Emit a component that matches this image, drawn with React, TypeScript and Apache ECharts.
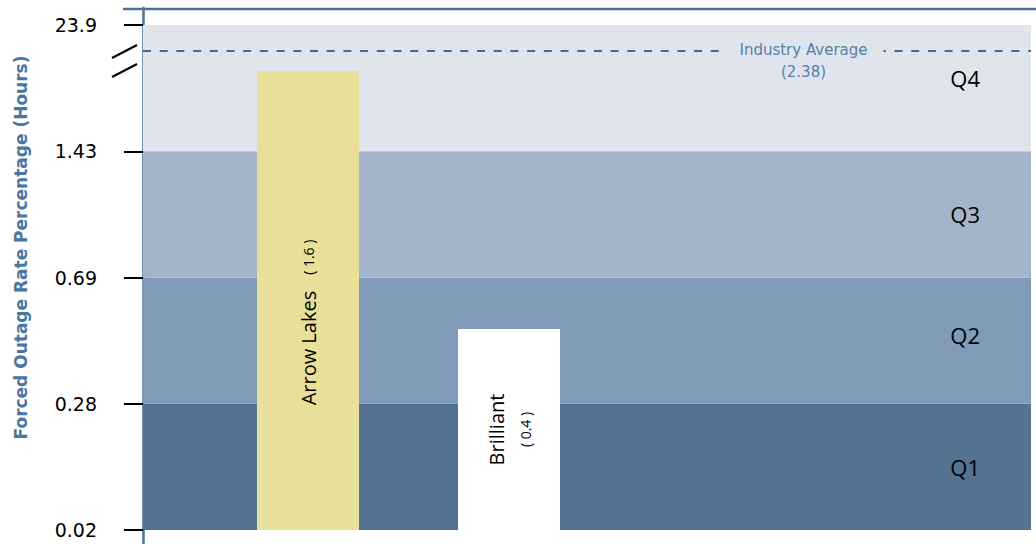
import React, { useEffect, useRef } from "react";
import * as echarts from "echarts";

// ---- data ----
const quartileNames = ["Q1", "Q2", "Q3", "Q4"];
const quartileTickLabels = ["0.02", "0.28", "0.69", "1.43", "23.9"];
const quartileColors = ["#537391", "#7f9bb8", "#a3b4ca", "#dfe4ed"];

const plants = ["Arrow Lakes", "Brilliant"];
const plantValues = [1.6, 0.4];
// bar height on the chart's quartile scale (each quartile = 1 unit)
const plantScalePositions = [3.636, 1.592];
const plantColors = ["#e8e099", "#ffffff"];

const industryAverage = 2.38;
const industryAverageScalePosition = 3.802;

const axisTitle = "Forced Outage Rate Percentage (Hours)";

const Y_MIN = -0.1109;
const Y_MAX = 4.1347;

export default function App() {
  const ref = useRef<HTMLDivElement>(null);

  useEffect(() => {
    if (!ref.current) return;
    const chart = echarts.init(ref.current, undefined, { renderer: "svg" });
    const tickVals = quartileTickLabels.map((_, i) => i);

    const option: any = {
      animation: false,
      grid: [
        { left: 143, right: 5, top: 8, bottom: 0 },
        { left: 207.5, width: 804, top: 8, bottom: 0 },
      ],
      xAxis: [
        { type: "value", gridIndex: 0, min: 0, max: 1, show: false },
        { type: "category", gridIndex: 1, data: [...plants, "", ""], show: false },
      ],
      yAxis: [
        {
          type: "value",
          gridIndex: 0,
          min: Y_MIN,
          max: Y_MAX,
          position: "left",
          offset: 19,
          splitLine: { show: false },
          axisLine: { show: true, lineStyle: { color: "#4a74a0", width: 2.5 } },
          axisTick: {
            show: true,
            length: 17,
            customValues: tickVals,
            lineStyle: { color: "#000", width: 2 },
          },
          axisLabel: {
            customValues: tickVals,
            margin: 27,
            color: "#000",
            fontSize: 19,
            fontFamily: "DejaVu Sans",
            formatter: (v: number) => quartileTickLabels[Math.round(v)] ?? "",
          },
        },
        {
          type: "value",
          gridIndex: 0,
          min: Y_MIN,
          max: Y_MAX,
          position: "left",
          offset: 19,
          splitLine: { show: false },
          axisLine: { show: false },
          axisTick: {
            show: true,
            inside: true,
            length: 12,
            customValues: tickVals,
            lineStyle: { color: "#000", width: 2 },
          },
          axisLabel: { show: false },
        },
        {
          type: "value",
          gridIndex: 1,
          min: Y_MIN,
          max: Y_MAX,
          show: false,
        },
      ],
      series: [
        {
          type: "line",
          xAxisIndex: 0,
          yAxisIndex: 0,
          data: [],
          silent: true,
          markArea: {
            silent: true,
            data: quartileNames.map((q, i) => [
              {
                name: q,
                yAxis: i,
                itemStyle: { color: quartileColors[i], borderWidth: 0 },
                label: {
                  show: true,
                  position: "insideRight",
                  distance: 51,
                  color: "#000",
                  fontSize: 22,
                  fontFamily: "Open Sans",
                  offset: [0, i === 3 ? -10 : i === 1 ? -6 : 0],
                },
              },
              { yAxis: i + 1 },
            ]),
          },
          markLine: {
            silent: true,
            symbol: "none",
            data: [{ yAxis: industryAverageScalePosition }],
            lineStyle: { type: [8, 8.7], width: 2, color: "#3f6b96" },
            label: {
              show: true,
              position: "middle",
              formatter: `Industry Average\n(${industryAverage})`,
              color: "#5a7fa3",
              fontSize: 15,
              fontFamily: "DejaVu Sans",
              lineHeight: 22,
              align: "center",
              backgroundColor: quartileColors[3],
              padding: [0, 16, 0, 16],
              offset: [216.5, 38],
            },
          },
        },
        {
          type: "bar",
          xAxisIndex: 1,
          yAxisIndex: 2,
          barWidth: 102,
          data: plants.map((p, i) => {
            const tall = plantScalePositions[i] > 2.5;
            return {
              name: p,
              value: plantScalePositions[i],
              itemStyle: { color: plantColors[i] },
              label: {
                show: true,
                position: "inside",
                rotate: 90,
                offset: tall ? [-22, 0] : [0, 0],
                formatter: tall
                  ? `{n|${p}}{vs|( ${plantValues[i]} )}`
                  : `{n|${p}}\n{v|( ${plantValues[i]} )}`,
                rich: {
                  n: { fontSize: 20, fontFamily: "Open Sans", color: "#000", lineHeight: 32 },
                  v: { fontSize: 14, fontFamily: "Open Sans", color: "#000", lineHeight: 26 },
                  vs: {
                    fontSize: 14,
                    fontFamily: "Open Sans",
                    color: "#000",
                    lineHeight: 32,
                    padding: [0, 0, 0, 16],
                  },
                },
              },
            };
          }),
        },
      ],
      graphic: [
        {
          type: "line",
          shape: { x1: 123, y1: 9, x2: 1036, y2: 9 },
          style: { stroke: "#4a74a0", lineWidth: 2.5 },
        },
        {
          type: "line",
          shape: { x1: 112, y1: 58, x2: 137, y2: 45 },
          style: { stroke: "#000", lineWidth: 2 },
        },
        {
          type: "line",
          shape: { x1: 112, y1: 77, x2: 137, y2: 64 },
          style: { stroke: "#000", lineWidth: 2 },
        },
        {
          type: "text",
          x: 21,
          y: 247.5,
          rotation: Math.PI / 2,
          style: {
            text: axisTitle,
            fill: "#4a76a3",
            font: "bold 17px 'DejaVu Sans'",
            align: "center",
            verticalAlign: "middle",
          },
        },
      ],
    };

    chart.setOption(option);
    return () => chart.dispose();
  }, []);

  return (
    <div
      ref={ref}
      style={{ position: "fixed", left: 0, top: 0, width: 1036, height: 544, background: "#fff" }}
    />
  );
}
